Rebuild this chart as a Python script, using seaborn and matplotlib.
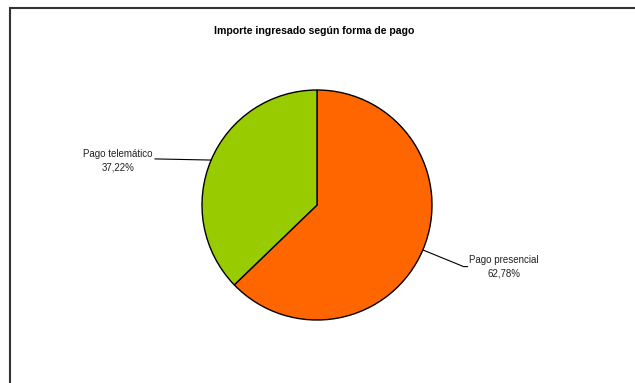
import matplotlib
matplotlib.use("Agg")
import matplotlib.pyplot as plt
from matplotlib.lines import Line2D
import seaborn as sns
import numpy as np

title = "Importe ingresado según forma de pago"
labels = ["Pago presencial", "Pago telemático"]
values = [62.78, 37.22]
colors = ["#FF6600", "#99CC00"]

sns.set_style("white")
plt.rcParams["font.family"] = ["Liberation Sans", "DejaVu Sans"]

W, H = 635, 383
fig = plt.figure(figsize=(W / 100, H / 100), dpi=100)

# pie axes: center (317, 205) px, radius 115 px
cx, cy, r = 317, 205, 115
ax = fig.add_axes([(cx - r) / W, 1 - (cy + r) / H, 2 * r / W, 2 * r / H])
wedges, _ = ax.pie(values, colors=colors, startangle=90, counterclock=False,
                   wedgeprops=dict(edgecolor="black", linewidth=1.0))
ax.set_xlim(-1, 1)
ax.set_ylim(-1, 1)
ax.set_aspect("auto")
ax.axis("off")

# labels with leader lines
for w, lab, v in zip(wedges, labels, values):
    ang = np.deg2rad((w.theta1 + w.theta2) / 2)
    x0, y0 = np.cos(ang), np.sin(ang)
    txt = f"{lab}\n{v:.2f}%".replace(".", ",")
    if x0 > 0:
        ex, ey = 1.275, y0 - 0.145
        ax.plot([x0, ex, ex + 0.035], [y0, ey, ey], color="black", lw=0.8, clip_on=False)
        ax.text(ex + 0.045, ey, txt, ha="left", va="center", multialignment="center",
                fontsize=7, color="#222222", linespacing=1.45)
    else:
        ex = -1.41
        ax.plot([x0, ex], [y0, y0 + 0.01], color="black", lw=0.8, clip_on=False)
        ax.text(ex - 0.02, y0 - 0.005, txt, ha="right", va="center", multialignment="center",
                fontsize=7, color="#222222", linespacing=1.45)

fig.text(314 / W, 1 - 31 / H, title, ha="center", va="center",
         fontsize=7.6, fontweight="bold", color="black")

# frame (top and left edges)
fig.add_artist(Line2D([9 / W, 1], [1 - 7.5 / H, 1 - 7.5 / H], color="#333333",
                      lw=1.5, solid_capstyle="butt"))
fig.add_artist(Line2D([9.5 / W, 9.5 / W], [0, 1 - 7 / H], color="#333333",
                      lw=1.5, solid_capstyle="butt"))

fig.savefig("out.png", dpi=100)
